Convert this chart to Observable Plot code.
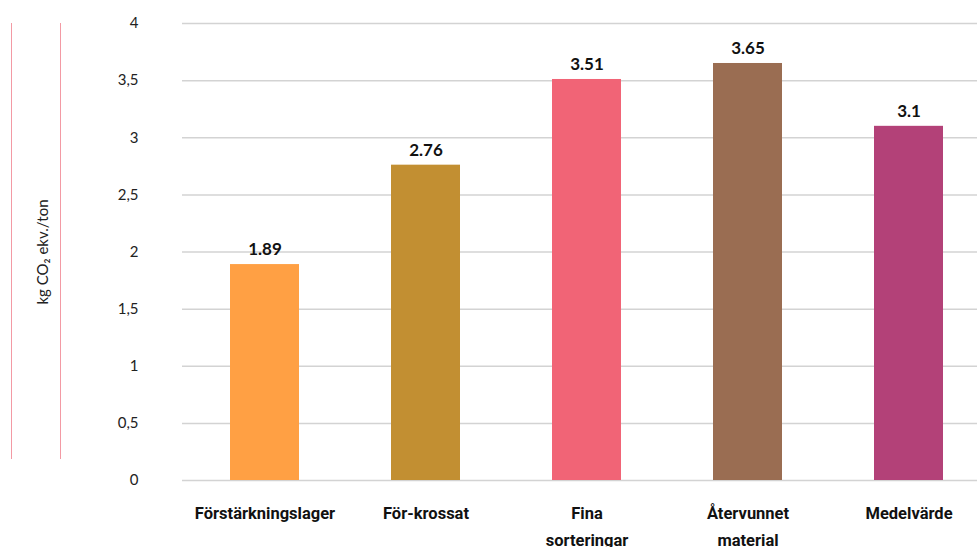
<!DOCTYPE html>
<html>
<head>
<meta charset="utf-8">
<script src="https://cdn.jsdelivr.net/npm/d3@7"></script>
<script src="https://cdn.jsdelivr.net/npm/@observablehq/plot@0.6"></script>
<style>
  html, body { margin: 0; padding: 0; background: #fff; }
  #wrap { position: relative; width: 977px; height: 547px; overflow: hidden; }
  .vline { position: absolute; top: 23px; height: 436px; width: 0; border-left: 1.5px solid #f39aa4; }
</style>
</head>
<body>
<div id="wrap">
  <div class="vline" style="left:11px"></div>
  <div class="vline" style="left:60px"></div>
  <div id="chart"></div>
</div>
<script>
const categories = ["Förstärkningslager", "För-krossat", "Fina sorteringar", "Återvunnet material", "Medelvärde"];
const tickLabels = ["Förstärkningslager", "För-krossat", "Fina\nsorteringar", "Återvunnet\nmaterial", "Medelvärde"];
const values = [1.89, 2.76, 3.51, 3.65, 3.1];
const valueLabels = ["1.89", "2.76", "3.51", "3.65", "3.1"];
const colors = ["#FFA044", "#C28F32", "#F16476", "#9A6D52", "#B34178"];
const yTicks = [0, 0.5, 1, 1.5, 2, 2.5, 3, 3.5, 4];

const data = categories.map((c, i) => ({cat: c, value: values[i], label: valueLabels[i], color: colors[i]}));
const tickMap = new Map(categories.map((c, i) => [c, tickLabels[i]]));

const chart = Plot.plot({
  width: 977,
  height: 547,
  marginLeft: 182,
  marginRight: 0,
  marginTop: 23,
  marginBottom: 67,
  style: {fontFamily: "Lato, 'Open Sans', sans-serif", background: "#fff"},
  x: {domain: categories, range: [182, 990], paddingInner: 0.573, paddingOuter: 0.2865, label: null},
  y: {domain: [0, 4], ticks: yTicks, label: null},
  marks: [
    Plot.ruleY(yTicks, {stroke: "#d3d3d3", strokeWidth: 1.5}),
    Plot.barY(data, {x: "cat", y: "value", fill: "color"}),
    Plot.text(data, {x: "cat", y: "value", text: "label", dy: -15, fontSize: 17, fontWeight: "bold", fill: "#111", fontFamily: "Lato, sans-serif"}),
    Plot.axisY({ticks: yTicks, tickSize: 0, tickPadding: 44, fontSize: 15, fill: "#222",
      tickFormat: d => String(d).replace(".", ","),
      label: "kg CO₂ ekv./ton", labelAnchor: "center", labelArrow: "none", labelOffset: 145}),
    Plot.axisX({tickSize: 0, tickPadding: 20, fontSize: 16.5, fontWeight: "bold", fill: "#111",
      lineHeight: 1.6, tickFormat: d => tickMap.get(d), label: null, fontFamily: "'Roboto', sans-serif"})
  ]
});
document.getElementById("chart").appendChild(chart);
</script>
</body>
</html>
